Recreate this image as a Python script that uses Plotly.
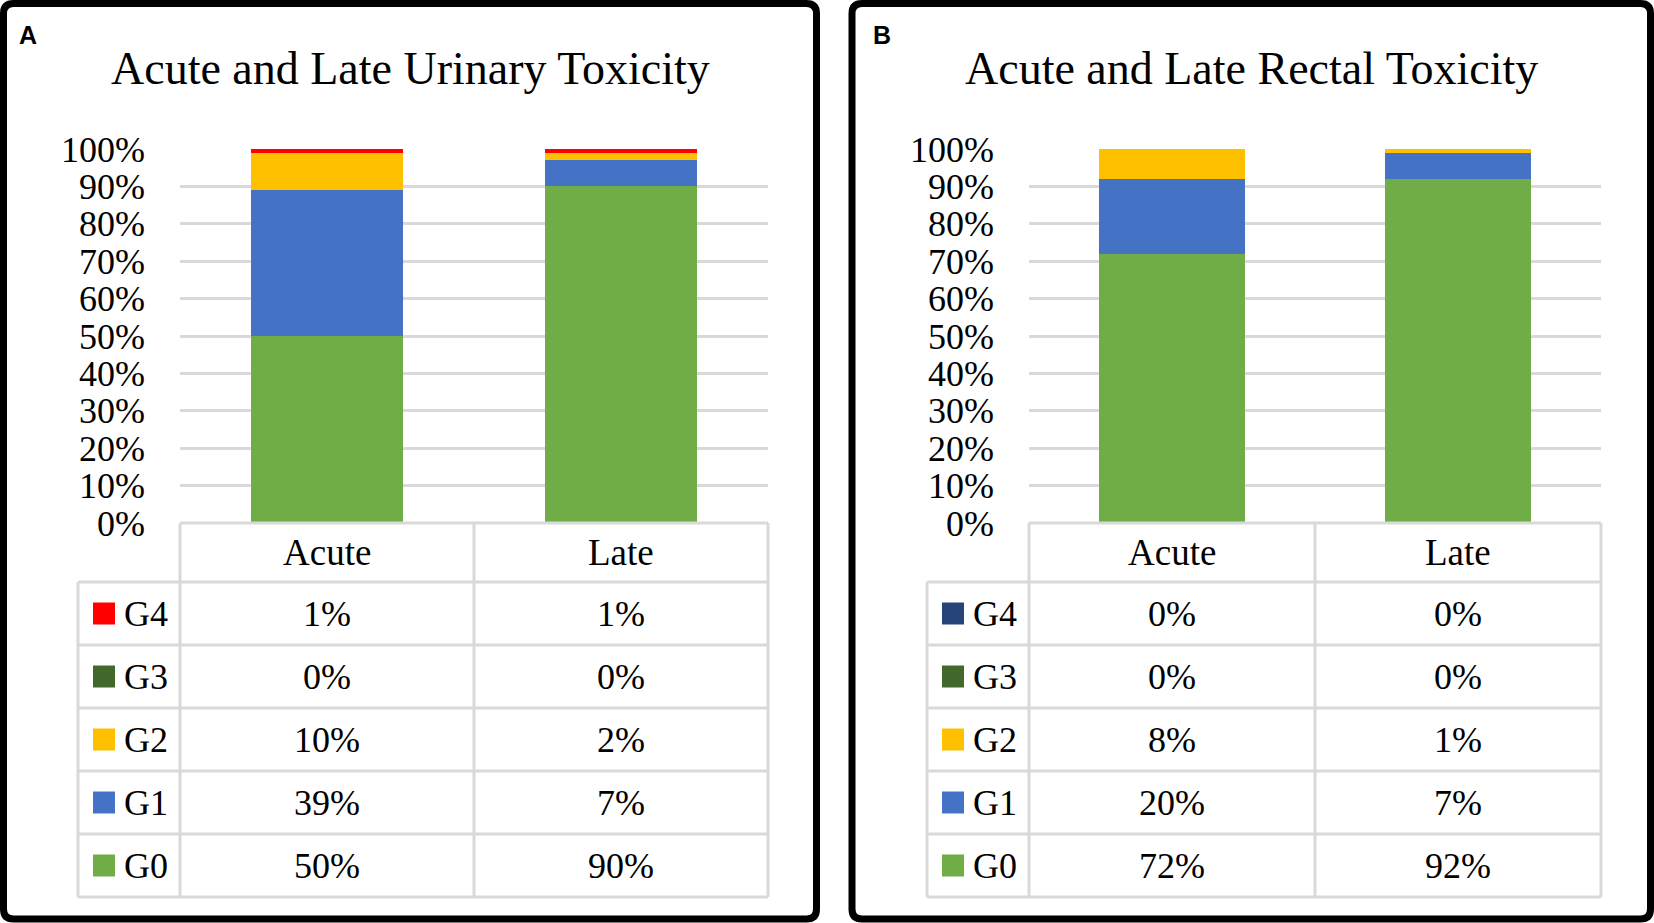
import plotly.graph_objects as go

W, H = 1654, 923

# ---------------- data ----------------
categories = ["Acute", "Late"]
grades = ["G0", "G1", "G2", "G3", "G4"]

urinary_G0 = [50, 90]
urinary_G1 = [39, 7]
urinary_G2 = [10, 2]
urinary_G3 = [0, 0]
urinary_G4 = [1, 1]

rectal_G0 = [72, 92]
rectal_G1 = [20, 7]
rectal_G2 = [8, 1]
rectal_G3 = [0, 0]
rectal_G4 = [0, 0]

y_tick_values = [0, 10, 20, 30, 40, 50, 60, 70, 80, 90, 100]
y_tick_labels = ["0%", "10%", "20%", "30%", "40%", "50%", "60%", "70%", "80%", "90%", "100%"]

titles = ["Acute and Late Urinary Toxicity", "Acute and Late Rectal Toxicity"]
panel_letters = ["A", "B"]

# ---------------- styles ----------------
colors_A = {"G0": "#70AD47", "G1": "#4472C4", "G2": "#FFC000", "G3": "#43682B", "G4": "#FF0000"}
colors_B = {"G0": "#70AD47", "G1": "#4472C4", "G2": "#FFC000", "G3": "#43682B", "G4": "#264478"}
GRID = "#D9D9D9"
SERIF = "Liberation Serif, Times New Roman, serif"
SANS = "Liberation Sans, Arial, sans-serif"
FS = 36


def px(x):
    return x / W


def py(y):
    return 1 - y / H


panels = [
    dict(letter=panel_letters[0], title=titles[0],
         data={"G0": urinary_G0, "G1": urinary_G1, "G2": urinary_G2, "G3": urinary_G3, "G4": urinary_G4},
         colors=colors_A, frame=(3.5, 816.5), letter_x=28,
         table_left=78, cat_left=180, mid=474, right=768, xa="x", ya="y", bw=0.514),
    dict(letter=panel_letters[1], title=titles[1],
         data={"G0": rectal_G0, "G1": rectal_G1, "G2": rectal_G2, "G3": rectal_G3, "G4": rectal_G4},
         colors=colors_B, frame=(852, 1650.5), letter_x=882,
         table_left=927, cat_left=1029, mid=1315, right=1601, xa="x2", ya="y2", bw=0.51),
]

PLOT_TOP, PLOT_BOTTOM = 149, 523
HEADER_BOTTOM = 582
ROW_H = 63

fig = go.Figure()
shapes = []
annotations = []

for i, p in enumerate(panels):
    for g in grades:
        fig.add_trace(go.Bar(
            x=categories, y=p["data"][g], name=g,
            marker=dict(color=p["colors"][g], line=dict(width=0)),
            width=p["bw"], xaxis=p["xa"], yaxis=p["ya"], showlegend=False,
        ))

    suffix = "" if i == 0 else "2"
    fig.update_layout(**{
        "xaxis" + suffix: dict(
            domain=[px(p["cat_left"]), px(p["right"])], range=[-0.5, 1.5],
            showticklabels=False, showgrid=False, zeroline=False, showline=False,
            anchor="y" + suffix, fixedrange=True, automargin=False,
        ),
        "yaxis" + suffix: dict(
            domain=[py(PLOT_BOTTOM), py(PLOT_TOP)], range=[0, 100],
            tickvals=y_tick_values, ticktext=y_tick_labels,
            tickfont=dict(family=SERIF, size=FS, color="black"),
            showgrid=True, gridcolor=GRID, gridwidth=2.5,
            zeroline=False, showline=False, ticks="",
            ticklabelstandoff=34, anchor="x" + suffix, fixedrange=True, automargin=False,
        ),
    })

    # frame with rounded corners
    x0, x1 = p["frame"]
    y0, y1 = 3.5, 919
    r = 10
    path = (f"M {px(x0 + r)},{py(y0)} L {px(x1 - r)},{py(y0)} Q {px(x1)},{py(y0)} {px(x1)},{py(y0 + r)} "
            f"L {px(x1)},{py(y1 - r)} Q {px(x1)},{py(y1)} {px(x1 - r)},{py(y1)} "
            f"L {px(x0 + r)},{py(y1)} Q {px(x0)},{py(y1)} {px(x0)},{py(y1 - r)} "
            f"L {px(x0)},{py(y0 + r)} Q {px(x0)},{py(y0)} {px(x0 + r)},{py(y0)} Z")
    shapes.append(dict(type="path", path=path, xref="paper", yref="paper",
                       line=dict(color="black", width=7), layer="above"))

    # letter + title
    annotations.append(dict(text=f"<b>{p['letter']}</b>", x=px(p["letter_x"]), y=py(35),
                            xref="paper", yref="paper", showarrow=False,
                            xanchor="center", yanchor="middle",
                            font=dict(family=SANS, size=25, color="black")))
    annotations.append(dict(text=p["title"], x=px((x0 + x1) / 2), y=py(68),
                            xref="paper", yref="paper", showarrow=False,
                            xanchor="center", yanchor="middle",
                            font=dict(family=SERIF, size=46, color="black")))

    # data table
    tl, cl, md, rt = p["table_left"], p["cat_left"], p["mid"], p["right"]
    n_rows = len(grades)
    bottom = HEADER_BOTTOM + n_rows * ROW_H
    line = dict(color=GRID, width=3)

    def hline(xa, xb, y):
        shapes.append(dict(type="line", xref="paper", yref="paper",
                           x0=px(xa), x1=px(xb), y0=py(y), y1=py(y), line=line, layer="above"))

    def vline(x, ya, yb):
        shapes.append(dict(type="line", xref="paper", yref="paper",
                           x0=px(x), x1=px(x), y0=py(ya), y1=py(yb), line=line, layer="above"))

    hline(cl, rt, PLOT_BOTTOM)
    for k in range(n_rows + 1):
        hline(tl, rt, HEADER_BOTTOM + k * ROW_H)
    vline(tl, HEADER_BOTTOM, bottom)
    vline(cl, PLOT_BOTTOM, bottom)
    vline(md, PLOT_BOTTOM, bottom)
    vline(rt, PLOT_BOTTOM, bottom)

    col_centers = [(cl + md) / 2, (md + rt) / 2]
    header_c = (PLOT_BOTTOM + HEADER_BOTTOM) / 2
    for cx, cat in zip(col_centers, categories):
        annotations.append(dict(text=cat, x=px(cx), y=py(header_c), xref="paper", yref="paper",
                                showarrow=False, xanchor="center", yanchor="middle",
                                font=dict(family=SERIF, size=FS + 1, color="black")))

    for k, g in enumerate(reversed(grades)):
        rc = HEADER_BOTTOM + k * ROW_H + ROW_H / 2
        sq = 22
        shapes.append(dict(type="rect", xref="paper", yref="paper",
                           x0=px(tl + 15), x1=px(tl + 15 + sq),
                           y0=py(rc - sq / 2), y1=py(rc + sq / 2),
                           fillcolor=p["colors"][g], line=dict(width=0), layer="above"))
        annotations.append(dict(text=g, x=px(tl + 44), y=py(rc), xref="paper", yref="paper",
                                showarrow=False, xanchor="left", yanchor="middle",
                                font=dict(family=SERIF, size=FS, color="black")))
        for cx, v in zip(col_centers, p["data"][g]):
            annotations.append(dict(text=f"{v}%", x=px(cx), y=py(rc), xref="paper", yref="paper",
                                    showarrow=False, xanchor="center", yanchor="middle",
                                    font=dict(family=SERIF, size=FS, color="black")))

fig.update_layout(
    template="none",
    width=W, height=H, autosize=False,
    margin=dict(l=0, r=0, t=0, b=0, pad=0, autoexpand=False),
    paper_bgcolor="white", plot_bgcolor="white",
    barmode="stack",
    shapes=shapes, annotations=annotations,
    showlegend=False,
)

fig.write_html("out.html", config={"displayModeBar": False},
               post_script="document.body.style.margin='0';document.body.style.overflow='hidden';")
